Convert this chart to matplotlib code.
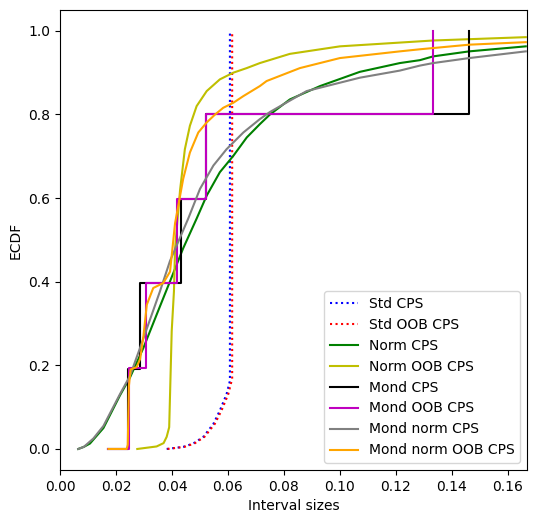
import numpy as np
import matplotlib
matplotlib.use('Agg')
import matplotlib.pyplot as plt

# ECDF curves (interval size, cumulative fraction)
std_x = [0.0381, 0.0440, 0.0476, 0.0512, 0.0548, 0.0571, 0.0595, 0.0607, 0.0607]
std_y = [0.0, 0.005, 0.013, 0.029, 0.060, 0.092, 0.131, 0.163, 1.0]

std_oob_x = [0.0384, 0.0444, 0.0480, 0.0516, 0.0553, 0.0577, 0.0601, 0.0615, 0.0615]
std_oob_y = [0.0, 0.005, 0.013, 0.029, 0.060, 0.092, 0.131, 0.168, 1.0]

norm_x = [0.0065, 0.0085, 0.0107, 0.0155, 0.0214, 0.0250, 0.0298, 0.0345, 0.0393,
          0.0440, 0.0488, 0.0524, 0.0571, 0.0619, 0.0667, 0.0714, 0.0750, 0.0821,
          0.0929, 0.1071, 0.1214, 0.1286, 0.1333, 0.1462, 0.1664]
norm_y = [0.0, 0.005, 0.013, 0.050, 0.128, 0.171, 0.242, 0.321, 0.401,
          0.480, 0.551, 0.606, 0.662, 0.701, 0.745, 0.777, 0.800, 0.836,
          0.868, 0.902, 0.923, 0.930, 0.939, 0.951, 0.963]

norm_oob_x = [0.0276, 0.0345, 0.0370, 0.0381, 0.0390, 0.0399, 0.0407, 0.0411,
              0.0429, 0.0446, 0.0464, 0.0488, 0.0524, 0.0571, 0.0619, 0.0667,
              0.0714, 0.0821, 0.1000, 0.1214, 0.1333, 0.1664]
norm_oob_y = [0.0, 0.006, 0.014, 0.029, 0.052, 0.282, 0.377, 0.480,
              0.620, 0.717, 0.773, 0.820, 0.856, 0.884, 0.900, 0.911,
              0.923, 0.945, 0.963, 0.972, 0.977, 0.985]

mond_x = [0.0173, 0.0244, 0.0286, 0.0432, 0.0521, 0.1462]
mond_y = [0.0, 0.191, 0.398, 0.598, 0.800, 1.0]

mond_oob_x = [0.0173, 0.0248, 0.0307, 0.0419, 0.0521, 0.1333]
mond_oob_y = [0.0, 0.194, 0.398, 0.598, 0.800, 1.0]

mond_norm_x = [0.0065, 0.0085, 0.0119, 0.0155, 0.0214, 0.0250, 0.0286, 0.0357,
               0.0393, 0.0458, 0.0500, 0.0548, 0.0595, 0.0655, 0.0714, 0.0750,
               0.0881, 0.1071, 0.1214, 0.1286, 0.1333, 0.1462, 0.1664]
mond_norm_y = [0.0, 0.005, 0.025, 0.055, 0.131, 0.175, 0.242, 0.377,
               0.450, 0.551, 0.622, 0.678, 0.717, 0.757, 0.789, 0.806,
               0.856, 0.888, 0.905, 0.917, 0.923, 0.935, 0.951]

mond_norm_oob_x = [0.0173, 0.0238, 0.0242, 0.0246, 0.0252, 0.0274, 0.0286, 0.0298,
                   0.0310, 0.0333, 0.0369, 0.0393, 0.0411, 0.0440, 0.0464, 0.0494,
                   0.0524, 0.0554, 0.0583, 0.0619, 0.0655, 0.0714, 0.0738, 0.0857,
                   0.1000, 0.1214, 0.1286, 0.1462, 0.1664]
mond_norm_oob_y = [0.0, 0.0, 0.010, 0.150, 0.190, 0.196, 0.215, 0.270,
                   0.345, 0.385, 0.397, 0.424, 0.540, 0.646, 0.709, 0.757,
                   0.781, 0.800, 0.816, 0.828, 0.844, 0.868, 0.880, 0.911,
                   0.935, 0.951, 0.956, 0.967, 0.973]

fig = plt.figure(figsize=(5.36, 5.25), dpi=100)
ax = fig.add_axes([0.112, 0.105, 0.871, 0.876])

ax.plot(std_x, std_y, color='b', linestyle=':', label='Std CPS')
ax.plot(std_oob_x, std_oob_y, color='r', linestyle=':', label='Std OOB CPS')
ax.plot(norm_x, norm_y, color='g', label='Norm CPS')
ax.plot(norm_oob_x, norm_oob_y, color='y', label='Norm OOB CPS')
ax.step(mond_x, mond_y, where='post', color='k', label='Mond CPS')
ax.step(mond_oob_x, mond_oob_y, where='post', color='m', label='Mond OOB CPS')
ax.plot(mond_norm_x, mond_norm_y, color='gray', label='Mond norm CPS')
ax.plot(mond_norm_oob_x, mond_norm_oob_y, color='orange', label='Mond norm OOB CPS')

ax.set_xlim(0, 0.1668)
ax.set_ylim(-0.05, 1.05)
ax.set_xlabel('Interval sizes')
ax.set_ylabel('ECDF')
ax.legend(loc='lower right')

fig.savefig('out.png', dpi=100)
